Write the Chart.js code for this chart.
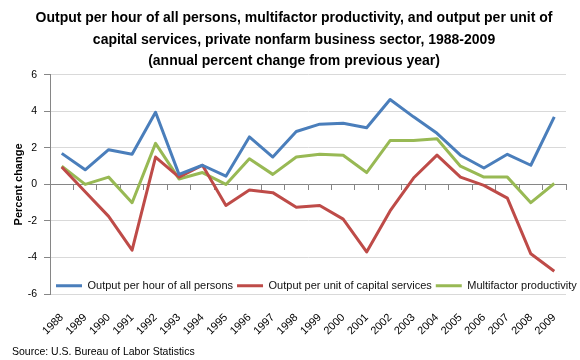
<!DOCTYPE html>
<html><head><meta charset="utf-8">
<script src="https://cdn.jsdelivr.net/npm/chart.js@4.4.1/dist/chart.umd.min.js"></script>
<style>html,body{margin:0;padding:0;background:#fff}</style>
</head><body>
<canvas id="c" width="580" height="360"></canvas>
<script>
const years = ['1988','1989','1990','1991','1992','1993','1994','1995','1996','1997','1998','1999','2000','2001','2002','2003','2004','2005','2006','2007','2008','2009'];
const outputPerHour = [1.7, 0.8, 1.9, 1.65, 3.95, 0.55, 1.05, 0.45, 2.6, 1.5, 2.9, 3.3, 3.35, 3.1, 4.65, 3.7, 2.8, 1.6, 0.9, 1.65, 1.05, 3.7];
const outputPerCapital = [0.95, -0.4, -1.75, -3.6, 1.5, 0.4, 1.05, -1.15, -0.3, -0.45, -1.25, -1.15, -1.9, -3.7, -1.45, 0.35, 1.6, 0.4, -0.05, -0.75, -3.8, -4.75];
const multifactor = [1.0, 0.0, 0.4, -1.0, 2.25, 0.3, 0.65, 0.0, 1.4, 0.55, 1.5, 1.65, 1.6, 0.65, 2.4, 2.4, 2.5, 1.0, 0.4, 0.4, -1.0, 0.05];
const seriesNames = ['Output per hour of all persons', 'Output per unit of capital services', 'Multifactor productivity'];
const titleLines = ['Output per hour of all persons, multifactor productivity, and output per unit of', 'capital services, private nonfarm business sector, 1988-2009', '(annual percent change from previous year)'];
const yTitle = 'Percent change';
const sourceText = 'Source: U.S. Bureau of Labor Statistics';
const yMin = -6, yMax = 6, yStep = 2;

const FONT = "'Liberation Sans', Arial, sans-serif";
const AXIS = '#868686';

const legendInside = {
  id: 'legendInside',
  beforeLayout(chart) {
    const lg = chart.legend;
    if (lg && !lg._patched) {
      const orig = lg.fit;
      lg.fit = function () { orig.call(this); this._realH = this.height; this.height = 0; };
      lg._patched = true;
    }
  },
  afterLayout(chart) {
    const lg = chart.legend;
    const ca = chart.chartArea;
    const h = lg._realH || 20;
    lg.left = 52; lg.right = 600; lg.width = 548;
    lg.top = ca.bottom - 17.8;
    lg.height = h; lg.bottom = lg.top + h;
  }
};

new Chart(document.getElementById('c'), {
  type: 'line',
  data: {
    labels: years,
    datasets: [
      { label: seriesNames[0], data: outputPerHour, borderColor: '#4A7EBB', backgroundColor: '#4A7EBB' },
      { label: seriesNames[1], data: outputPerCapital, borderColor: '#BE4B48', backgroundColor: '#BE4B48' },
      { label: seriesNames[2], data: multifactor, borderColor: '#98B954', backgroundColor: '#98B954' }
    ].map(d => Object.assign(d, { borderWidth: 3, pointRadius: 0, pointHoverRadius: 0, tension: 0, fill: false, borderJoinStyle: 'round', xAxisID: 'x', yAxisID: 'y' }))
  },
  options: {
    responsive: false,
    animation: false,
    devicePixelRatio: 1,
    layout: { padding: { left: 12, right: 4, top: 0, bottom: 0 } },
    plugins: {
      tooltip: { enabled: false },
      title: {
        display: true, text: titleLines, color: '#000',
        font: { family: FONT, size: 14, weight: 'bold', lineHeight: 1.52 },
        padding: { top: 8, bottom: 3 }
      },
      subtitle: {
        display: true, text: sourceText, position: 'bottom', align: 'start', color: '#000',
        font: { family: FONT, size: 10.5, weight: 'normal', lineHeight: 1.2 },
        padding: { top: 3, bottom: 2 }
      },
      legend: {
        display: true, position: 'bottom', align: 'start',
        labels: {
          usePointStyle: true, pointStyle: 'line', pointStyleWidth: 26,
          font: { family: FONT, size: 11 }, color: '#111', padding: 4
        }
      }
    },
    scales: {
      x: {
        type: 'category', offset: true, position: 'bottom',
        grid: { display: false }, border: { display: false },
        ticks: { color: '#000', font: { family: FONT, size: 11 }, minRotation: 45, maxRotation: 45, padding: 9, autoSkip: false },
        afterFit(s) { s.height = 48.4; }
      },
      x2: {
        type: 'category', offset: true, position: { y: 0 },
        grid: { offset: true, drawOnChartArea: false, drawTicks: true, tickLength: 5, color: AXIS },
        border: { display: true, color: AXIS, width: 1 },
        ticks: { display: false }
      },
      y: {
        type: 'linear', position: 'left', min: yMin, max: yMax,
        grid: { color: '#D9D9D9', tickColor: AXIS, tickLength: 6, drawTicks: true },
        border: { display: true, color: AXIS, width: 1 },
        ticks: { stepSize: yStep, color: '#000', font: { family: FONT, size: 10.5 }, padding: 7 },
        title: { display: true, text: yTitle, color: '#000', font: { family: FONT, size: 11, weight: 'bold' }, padding: { top: 0, bottom: 0 } },
        afterFit(s) { s.width = 38; }
      },
      y2: {
        type: 'linear', position: 'right', display: true,
        grid: { display: false }, border: { display: false }, ticks: { display: false },
        afterFit(s) { s.width = 10; }
      }
    }
  },
  plugins: [legendInside]
});
</script>
</body></html>
